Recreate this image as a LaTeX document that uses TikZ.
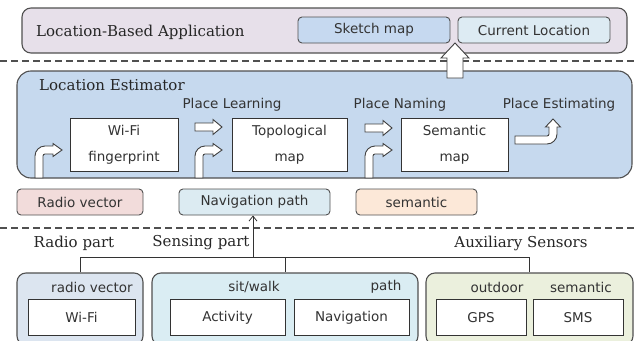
\documentclass[tikz,border=0pt]{standalone}
\usepackage{fontspec}
\setmainfont{DejaVu Sans}
\newfontfamily\serifx{DejaVu Serif}
\usetikzlibrary{arrows.meta}
\definecolor{bordc}{HTML}{505050}
\definecolor{txtc}{HTML}{333333}
\definecolor{appfill}{HTML}{E7E0EA}
\definecolor{sketchfill}{HTML}{C6D9F0}
\definecolor{curfill}{HTML}{DDEBF3}
\definecolor{estfill}{HTML}{C6D9EE}
\definecolor{radiofill}{HTML}{F2DCDB}
\definecolor{navfill}{HTML}{DCEBF2}
\definecolor{semfill}{HTML}{FCE8D8}
\definecolor{rgrpfill}{HTML}{DCE5F0}
\definecolor{sgrpfill}{HTML}{DAEDF3}
\definecolor{agrpfill}{HTML}{EBF0DD}
\tikzset{
  sanstxt/.style={text=txtc, font=\fontsize{13.5}{16}\selectfont, inner sep=0pt},
  seriftxt/.style={text=black!85, font=\serifx\fontsize{15}{17}\selectfont, inner sep=0pt},
  panel/.style={draw=bordc, line width=1.1pt, rounded corners=9pt, inner sep=0pt},
  tagbox/.style={draw=bordc, line width=0.9pt, rounded corners=4pt, inner sep=0pt, minimum height=26pt, sanstxt},
  whitebox/.style={draw=black!80, line width=0.9pt, fill=white, inner sep=0pt, sanstxt, align=center},
  harrow/.style={draw=black!75, line width=0.9pt, fill=white, line join=miter},
  conn/.style={draw=black!80, line width=0.8pt},
  sep/.style={draw=bordc, line width=1.5pt, dash pattern=on 7pt off 4pt}
}
\begin{document}
\begin{tikzpicture}[x=1pt,y=-1pt]
\useasboundingbox (0,0) rectangle (636,340);
\clip (0,0) rectangle (636,340);
% top application panel
\node[panel, fill=appfill, minimum width=605pt, minimum height=45pt] (app) at (324.5,30.5) {};
\node[seriftxt, anchor=west] (apptxt) at (36,32) {Location-Based Application};
\node[tagbox, fill=sketchfill, minimum width=152pt] (sketch) at (374,30) {Sketch map};
\node[tagbox, fill=curfill, minimum width=152pt] (cur) at (534,30) {Current Location};
% separators
\coordinate (s1a) at (0,61); \coordinate (s1b) at (636,61);
\draw[sep] (s1a) -- (s1b);
\coordinate (s2a) at (0,228); \coordinate (s2b) at (636,228);
\draw[sep] (s2a) -- (s2b);
% estimator panel
\node[panel, rounded corners=14pt, fill=estfill, minimum width=615pt, minimum height=107pt] (est) at (324.5,124.5) {};
\node[seriftxt, anchor=west] (esttxt) at (39,85) {Location Estimator};
% up arrow to application
\draw[harrow] (447,78) -- (447,58) -- (441,58) -- (455,43) -- (469,58) -- (463,58) -- (463,78) -- cycle;
% labels
\node[sanstxt] (pl) at (232,105) {Place Learning};
\node[sanstxt] (pn) at (400,105) {Place Naming};
\node[sanstxt] (pe) at (559,105) {Place Estimating};
% inner boxes
\node[whitebox, minimum width=108pt, minimum height=53pt, font=\fontsize{13.5}{26}\selectfont] (wfp) at (124,144.5) {Wi-Fi\\fingerprint};
\node[whitebox, minimum width=115pt, minimum height=53pt, font=\fontsize{13.5}{26}\selectfont] (topo) at (289.5,144.5) {Topological\\map};
\node[whitebox, minimum width=107pt, minimum height=53pt, font=\fontsize{13.5}{26}\selectfont] (smap) at (454.5,144.5) {Semantic\\map};
% straight hollow arrows
\draw[harrow] (195,123) -- (213,123) -- (213,119.5) -- (222,127) -- (213,134.5) -- (213,131) -- (195,131) -- cycle;
\draw[harrow] (365,124) -- (383,124) -- (383,120.5) -- (392,128) -- (383,135.5) -- (383,132) -- (365,132) -- cycle;
% bent hollow arrows (input)
\foreach \dx in {0,160,330}{
  \begin{scope}[shift={(\dx,0)}]
  \draw[harrow] (43,178) -- (43,156) .. controls (43,154.9) and (43.9,154) .. (45,154) -- (53,154) -- (53,156.5) -- (62,150) -- (53,143.5) -- (53,146) -- (45,146) .. controls (39.5,146) and (35,150.5) .. (35,156) -- (35,178) -- cycle;
  \end{scope}
}
% place estimating bent arrow
\draw[harrow] (515,144) -- (547,144) .. controls (552.5,144) and (557,139.5) .. (557,134) -- (557,127) -- (560.5,127) -- (553,119) -- (545.5,127) -- (549,127) -- (549,134) .. controls (549,135.1) and (548.1,136) .. (547,136) -- (515,136) -- cycle;
% input tags
\node[tagbox, fill=radiofill, minimum width=126pt] (radv) at (80,202) {Radio vector};
\node[tagbox, fill=navfill, minimum width=151pt] (navp) at (254.5,202) {Navigation path};
\node[tagbox, fill=semfill, minimum width=121pt] (sem) at (416.5,202) {semantic};
% part labels
\node[seriftxt] (rpart) at (74,243) {Radio part};
\node[seriftxt] (spart) at (201,243) {Sensing part};
\node[seriftxt] (apart) at (521,243) {Auxiliary Sensors};
% sensor groups
\node[panel, fill=rgrpfill, minimum width=126pt, minimum height=72pt] (rgrp) at (80,309) {};
\node[panel, fill=sgrpfill, minimum width=266pt, minimum height=72pt] (sgrp) at (285,309) {};
\node[panel, fill=agrpfill, minimum width=207pt, minimum height=72pt] (agrp) at (529.5,309) {};
\node[sanstxt] (rvl) at (92,287) {radio vector};
\node[sanstxt] (swl) at (254,287) {sit/walk};
\node[sanstxt] (pathl) at (386,287) {path};
\node[sanstxt] (outl) at (497,287) {outdoor};
\node[sanstxt] (seml) at (581,287) {semantic};
\node[whitebox, minimum width=107pt, minimum height=36pt] (wifi) at (81.5,317.5) {Wi-Fi};
\node[whitebox, minimum width=115pt, minimum height=36pt] (act) at (227.5,317.5) {Activity};
\node[whitebox, minimum width=115pt, minimum height=36pt] (navi) at (351.5,317.5) {Navigation};
\node[whitebox, minimum width=90pt, minimum height=36pt] (gps) at (481,317.5) {GPS};
\node[whitebox, minimum width=90pt, minimum height=36pt] (sms) at (578,317.5) {SMS};
% tree connectors
\coordinate (tj) at (253,257);
\draw[conn] (rgrp.north) -- (rgrp.north |- tj) -- (agrp.north |- tj) -- (agrp.north);
\draw[conn] (sgrp.north |- tj) -- (sgrp.north);
\draw[conn, -{Straight Barb[length=5pt,width=8pt]}] (tj) -- (tj |- navp.south);
\end{tikzpicture}
\end{document}
